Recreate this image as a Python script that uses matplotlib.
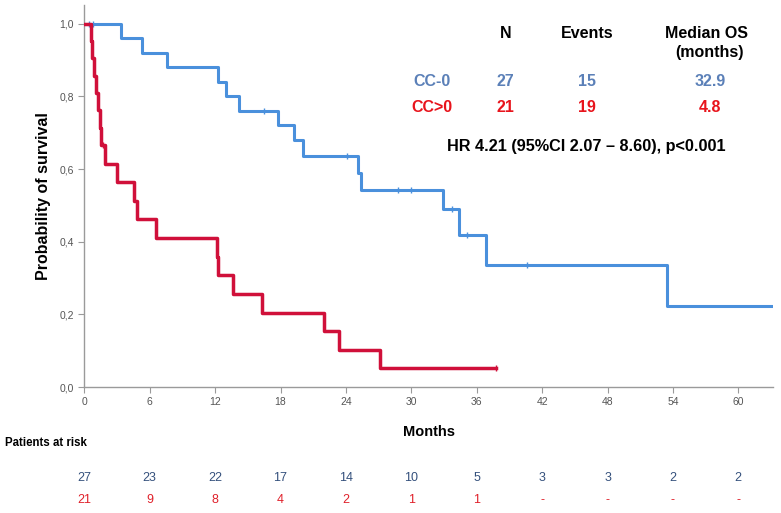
import matplotlib.pyplot as plt
from matplotlib.transforms import blended_transform_factory

# ---- data ----
cc0_times = [0, 3.4, 5.3, 7.55, 12.3, 13.0, 14.2, 17.8, 19.2, 20.1, 25.1, 25.35,
             32.9, 34.4, 36.85, 53.5]
cc0_surv = [1.0, 0.96, 0.92, 0.88, 0.84, 0.80, 0.76, 0.72, 0.68, 0.635, 0.589,
            0.543, 0.489, 0.419, 0.336, 0.224]
cc0_end = 63.2
cc0_censor = [0.4, 0.8, 16.5, 24.1, 28.8, 30.0, 33.7, 35.1, 40.6]

ccp_times = [0, 0.58, 0.7, 0.89, 1.1, 1.26, 1.41, 1.56, 1.87, 3.03, 4.56, 4.8,
             6.58, 12.2, 12.27, 13.6, 16.3, 22.0, 23.4, 27.1]
ccp_surv = [1.0, 0.952, 0.905, 0.857, 0.810, 0.762, 0.714, 0.667, 0.615, 0.564,
            0.512, 0.462, 0.411, 0.359, 0.308, 0.257, 0.205, 0.154, 0.103, 0.051]
ccp_end = 37.8
ccp_censor = [1.75, 37.8]

risk_months = [0, 6, 12, 18, 24, 30, 36, 42, 48, 54, 60]
risk_cc0 = ["27", "23", "22", "17", "14", "10", "5", "3", "3", "2", "2"]
risk_ccp = ["21", "9", "8", "4", "2", "1", "1", "-", "-", "-", "-"]

groups = ["CC-0", "CC>0"]
n_pat = ["27", "21"]
n_events = ["15", "19"]
median_os = ["32.9", "4.8"]
hr_text = "HR 4.21 (95%CI 2.07 \u2013 8.60), p<0.001"

blue = "#4a90dc"
red = "#d0103a"
blue_txt = "#5b80b8"
red_txt = "#e8141c"
risk_blue = "#34507c"
risk_red = "#e0202a"
grey = "#555555"

plt.rcParams["font.family"] = ["Liberation Sans", "DejaVu Sans"]
narrow = ["Liberation Sans Narrow", "Liberation Sans"]

fig = plt.figure(figsize=(7.81, 5.13), dpi=100)
ax = fig.add_axes([0.108, 0.2456, 0.882, 0.745])


def surv_at(times, surv, t):
    v = surv[0]
    for ti, si in zip(times, surv):
        if ti <= t:
            v = si
    return v


# curves
ax.step(cc0_times + [cc0_end], cc0_surv + [cc0_surv[-1]], where="post",
        color=blue, lw=2.2, zorder=3)
ax.plot(cc0_censor, [surv_at(cc0_times, cc0_surv, t) for t in cc0_censor],
        ls="none", marker="|", ms=5, mew=1.0, color=blue, zorder=3)

ax.step(ccp_times + [ccp_end], ccp_surv + [ccp_surv[-1]], where="post",
        color=red, lw=2.5, zorder=4)
ax.plot(ccp_censor, [surv_at(ccp_times, ccp_surv, t) for t in ccp_censor],
        ls="none", marker="|", ms=5, mew=1.0, color=red, zorder=4)

ax.set_xlim(0, 63.2)
ax.set_ylim(0, 1.052)
ax.set_xticks(risk_months)
ax.set_yticks([0, 0.2, 0.4, 0.6, 0.8, 1.0])
ax.set_yticklabels(["0,0", "0,2", "0,4", "0,6", "0,8", "1,0"])
for s in ["top", "right"]:
    ax.spines[s].set_visible(False)
for s in ["left", "bottom"]:
    ax.spines[s].set_color("#9a9a9a")
    ax.spines[s].set_linewidth(1.0)
ax.tick_params(colors="#9a9a9a", labelcolor=grey, labelsize=7.5, length=4)
for lab in ax.get_xticklabels() + ax.get_yticklabels():
    lab.set_family(narrow)
ax.set_ylabel("Probability of survival", fontsize=11.5, fontweight="bold",
              labelpad=6)
ax.set_xlabel("Months", fontsize=10.5, fontweight="bold", labelpad=13)

# summary table
col_x = [0.647, 0.752, 0.905]
head_kw = dict(fontsize=11.5, fontweight="bold", ha="center", va="center")
fig.text(col_x[0], 1 - 33 / 513, "N", **head_kw)
fig.text(col_x[1], 1 - 33 / 513, "Events", **head_kw)
fig.text(col_x[2], 1 - 33 / 513, "Median OS", **head_kw)
fig.text(col_x[2] + 0.004, 1 - 53 / 513, "(months)", **head_kw)

rows = [(groups[0], n_pat[0], n_events[0], median_os[0], blue_txt, 81),
        (groups[1], n_pat[1], n_events[1], median_os[1], red_txt, 108)]
for g, n, e, m, c, y in rows:
    kw = dict(fontsize=11.5, fontweight="bold", ha="center", va="center",
              color=c)
    fig.text(0.553, 1 - y / 513, g, **kw)
    fig.text(col_x[0], 1 - y / 513, n, **kw)
    fig.text(col_x[1], 1 - y / 513, e, **kw)
    fig.text(col_x[2] + 0.004, 1 - y / 513, m, **kw)

fig.text(0.751, 1 - 147 / 513, hr_text, fontsize=11.7, fontweight="bold",
         ha="center", va="center")

# patients at risk
fig.text(0.006, 1 - 443 / 513, "Patients at risk", fontsize=8.3,
         fontweight="bold", ha="left", va="center")
tr = blended_transform_factory(ax.transData, fig.transFigure)
for m, a, b in zip(risk_months, risk_cc0, risk_ccp):
    ax.text(m, 1 - 478 / 513, a, transform=tr, ha="center", va="center",
            fontsize=9, family=narrow, color=risk_blue, clip_on=False)
    ax.text(m, 1 - 500 / 513, b, transform=tr, ha="center", va="center",
            fontsize=9, family=narrow, color=risk_red, clip_on=False)

fig.savefig("out.png", dpi=100)
